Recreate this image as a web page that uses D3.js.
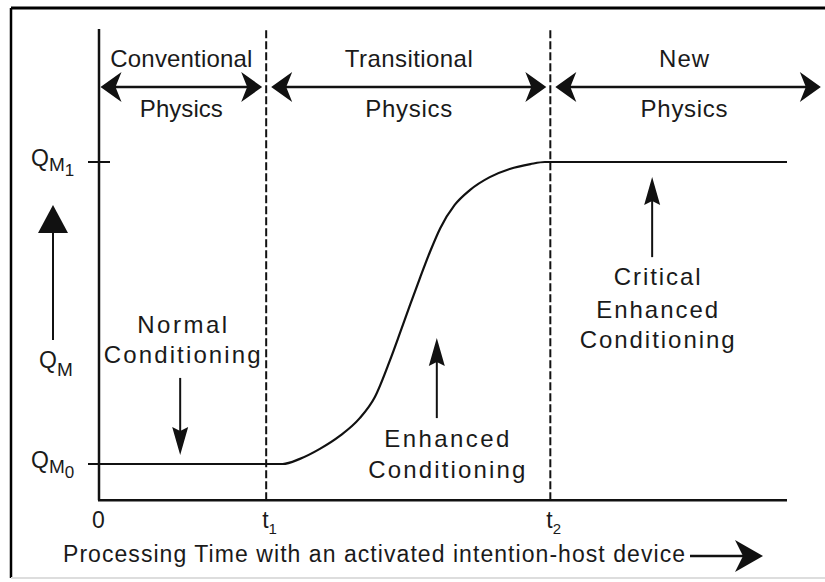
<!DOCTYPE html>
<html>
<head>
<meta charset="utf-8">
<script src="https://cdn.jsdelivr.net/npm/d3@7"></script>
<style>
  body { margin: 0; background: #fff; }
  text { font-family: "Liberation Sans", Arial, sans-serif; fill: #1a1a1a; }
</style>
</head>
<body>
<div id="chart"></div>
<script>
// time in arbitrary units (0..100), Q_M normalised so that Q_M0 = 0 and Q_M1 = 1
var tickLabels = ["0", "t", "t"];
var tickSubs = ["", "1", "2"];
var tickTimes = [0, 24.3, 65.6];

var regionNames = ["Conventional", "Transitional", "New"];
var regionSub = ["Physics", "Physics", "Physics"];
var regionStart = [0, 24.3, 65.6];
var regionEnd = [24.3, 65.6, 105.5];

var levelSubs = ["0", "1"];
var levelValues = [0, 1];

// the S-shaped Q_M curve
var curveTime = [0, 26.7, 29.2, 32.1, 35.0, 37.9, 40.1, 42.3, 43.75, 45.2, 46.7, 48.1, 49.6, 51.7, 53.9, 56.8, 59.7, 62.7, 64.8, 100];
var curveQ = [0, 0, 0.017, 0.050, 0.093, 0.152, 0.222, 0.344, 0.434, 0.526, 0.619, 0.702, 0.781, 0.858, 0.907, 0.950, 0.977, 0.993, 1, 1];

// annotations: text lines, arrow position (time) and arrow from/to (Q)
var noteLines = [["Normal", "Conditioning"], ["Enhanced", "Conditioning"], ["Critical", "Enhanced", "Conditioning"]];
var noteTime = [11.8, 49.1, 80.4];
var noteFrom = [0.285, 0.152, 0.685];
var noteTo = [0.03, 0.417, 0.95];

var xTitle = "Processing Time with an activated intention-host device";

var width = 825
height = 582

var svg = d3.select("#chart")
  .append("svg")
  .attr("width", width)
  .attr("height", height)

var x = d3.scaleLinear().domain([0, 100]).range([99, 787])
var y = d3.scaleLinear().domain([0, 1]).range([464, 162])
var yAxisExtent = [-0.12, 1.44]

// frame
svg.append("line").attr("x1", 11).attr("x2", 825).attr("y1", 8).attr("y2", 8)
  .attr("stroke", "#000").attr("stroke-width", 3)
svg.append("line").attr("x1", 11).attr("x2", 11).attr("y1", 8).attr("y2", 578)
  .attr("stroke", "#000").attr("stroke-width", 2.5)
svg.append("line").attr("x1", 11).attr("x2", 825).attr("y1", 578).attr("y2", 578)
  .attr("stroke", "#ddd").attr("stroke-width", 2)

// arrow head helper: tip at (tx,ty), pointing along (dx,dy)
function head(tx, ty, dx, dy, len, half, notch) {
  var bx = tx - dx * len, by = ty - dy * len
  var px = -dy, py = dx
  var nx = tx - dx * (len - notch), ny = ty - dy * (len - notch)
  var p = d3.path()
  p.moveTo(tx, ty)
  p.lineTo(bx + px * half, by + py * half)
  p.lineTo(nx, ny)
  p.lineTo(bx - px * half, by - py * half)
  p.closePath()
  svg.append("path").attr("d", p.toString()).attr("fill", "#111")
}

function label(txt, cx, base, size, len, anchor) {
  var t = svg.append("text")
    .attr("x", cx).attr("y", base)
    .attr("text-anchor", anchor || "middle")
    .style("font-size", size + "px")
    .text(txt)
  if (len) t.attr("textLength", len).attr("lengthAdjust", "spacing")
  return t
}

// axes
svg.append("line")
  .attr("x1", x(0)).attr("x2", x(0))
  .attr("y1", y(yAxisExtent[0])).attr("y2", y(yAxisExtent[1]))
  .attr("stroke", "#111").attr("stroke-width", 2.5)
svg.append("line")
  .attr("x1", x(0) - 1).attr("x2", x(100))
  .attr("y1", y(yAxisExtent[0])).attr("y2", y(yAxisExtent[0]))
  .attr("stroke", "#111").attr("stroke-width", 2.5)

// dashed boundaries t1, t2
svg.selectAll(".bound")
  .data(tickTimes.slice(1))
  .enter()
  .append("line")
  .attr("x1", d => x(d)).attr("x2", d => x(d))
  .attr("y1", y(yAxisExtent[0])).attr("y2", y(yAxisExtent[1]))
  .attr("stroke", "#111").attr("stroke-width", 2)
  .attr("stroke-dasharray", "8,3")

// region headers with double arrows
var arrowY = 87
var headerWidths = [142, 128, 50]
var subWidths = [83, 87, 87]
regionNames.forEach(function (name, i) {
  var a = x(regionStart[i]) + (i == 0 ? 1.5 : 5)
  var b = x(regionEnd[i]) - 4
  svg.append("line").attr("x1", a + 10).attr("x2", b - 10)
    .attr("y1", arrowY).attr("y2", arrowY)
    .attr("stroke", "#111").attr("stroke-width", 2.5)
  head(a, arrowY, -1, 0, 21, 15, 6)
  head(b, arrowY, 1, 0, 21, 15, 6)
  var cx = (a + b) / 2 - (i == 2 ? 4 : 0)
  label(name, cx, 67, 24, headerWidths[i])
  label(regionSub[i], cx, 117, 24, subWidths[i])
})

// level ticks Q_M0, Q_M1
levelValues.forEach(function (v, i) {
  svg.append("line")
    .attr("x1", x(0) - 11).attr("x2", x(0) + (i == 1 ? 11 : 0))
    .attr("y1", y(v)).attr("y2", y(v))
    .attr("stroke", "#111").attr("stroke-width", 2)
  var t = svg.append("text").attr("x", 31).attr("y", y(v) + 4).style("font-size", "23px")
  t.append("tspan").text("Q")
  t.append("tspan").attr("dy", 5).style("font-size", "19px").text("M")
  t.append("tspan").attr("dy", 5).style("font-size", "17px").text(levelSubs[i])
})

// Q_M axis title with up arrow
var qm = svg.append("text").attr("x", 39).attr("y", 368).style("font-size", "23px")
qm.append("tspan").text("Q")
qm.append("tspan").attr("dy", 8).style("font-size", "19px").text("M")
svg.append("line").attr("x1", 53).attr("x2", 53).attr("y1", 340).attr("y2", 225)
  .attr("stroke", "#111").attr("stroke-width", 2)
head(53, 205, 0, -1, 28, 15, 0)

// time tick labels
tickTimes.forEach(function (t, i) {
  var tx = svg.append("text")
    .attr("x", x(t) - (i == 0 ? 7 : 4)).attr("y", 528)
    .style("font-size", "23px")
  tx.append("tspan").text(tickLabels[i])
  if (tickSubs[i]) tx.append("tspan").attr("dy", 6).style("font-size", "15px").text(tickSubs[i])
})

// x title with arrow
label(xTitle, 63, 562, 23, 622, "start")
svg.append("line").attr("x1", 690).attr("x2", 745).attr("y1", 556).attr("y2", 556)
  .attr("stroke", "#111").attr("stroke-width", 2.5)
head(763, 556, 1, 0, 28, 16, 8)

// the curve
var pts = curveTime.map(function (t, i) { return [t, curveQ[i]] })
var line = d3.line()
  .x(d => x(d[0]))
  .y(d => y(d[1]))
  .curve(d3.curveMonotoneX)
svg.append("path")
  .attr("d", line(pts))
  .attr("fill", "none")
  .attr("stroke", "#111")
  .attr("stroke-width", 2.2)

// annotations
var noteLayout = [
  { dx: 2, base: [333, 363], widths: [90, 157] },
  { dx: 10, base: [447, 478], widths: [125, 157] },
  { dx: 5, base: [285, 318, 348], widths: [87, 122, 155] }
]
noteLines.forEach(function (lines, i) {
  var ax = x(noteTime[i])
  var up = noteTo[i] > noteFrom[i]
  var tipY = y(noteTo[i])
  svg.append("line").attr("x1", ax).attr("x2", ax)
    .attr("y1", y(noteFrom[i])).attr("y2", tipY + (up ? 20 : -20))
    .attr("stroke", "#111").attr("stroke-width", 2)
  head(ax, tipY, 0, up ? -1 : 1, 28, 8, 4)
  lines.forEach(function (s, j) {
    label(s, ax + noteLayout[i].dx, noteLayout[i].base[j], 24, noteLayout[i].widths[j])
  })
})
</script>
</body>
</html>
